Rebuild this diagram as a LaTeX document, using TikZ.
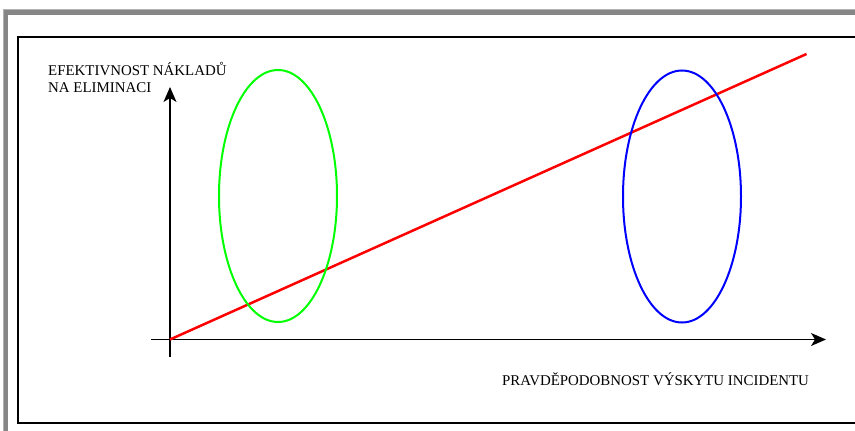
\documentclass[tikz,border=0pt]{standalone}
\usepackage{fontspec}
\setmainfont{Liberation Serif}
\usetikzlibrary{arrows.meta,shapes.geometric}
\begin{document}
\begin{tikzpicture}[x=1pt,y=-1pt,
  axis/.style={line width=1.5pt,-{Stealth[length=15pt,width=13pt,inset=4pt]}},
  lbl/.style={anchor=base west,inner sep=0pt,font=\fontsize{14.9}{17.7}\selectfont,align=left},
  oval/.style={ellipse,line width=2pt,minimum width=118pt,minimum height=252pt,inner sep=0pt}]
\useasboundingbox (0,0) rectangle (855,431);
\fill[white] (0,0) rectangle (855,431);
% outer gray frame
\draw[line width=5pt,color=gray!95] (5.5,440) -- (5.5,12) -- (870,12);
\draw[line width=1pt,color=gray!60] (3,440) -- (3,9.5) -- (870,9.5);
% inner black frame
\draw[line width=2pt] (18,37) rectangle (870,422.5);
% axes
\coordinate (o) at (170,339.5);
\coordinate (ybot) at (170,357);
\coordinate (ytop) at (170,87);
\coordinate (xleft) at (151,339.5);
\coordinate (xright) at (826,339.5);
\coordinate (rend) at (806.5,54);
\draw[axis] (ybot) -- (ytop);
\draw[axis] (xleft) -- (xright);
% red line
\draw[red,line width=2.5pt] (o) -- (rend);
% ellipses
\node[oval,draw=green] (g) at (278,196) {};
\node[oval,draw=blue] (b) at (682,196.5) {};
% labels
\node[lbl] (ylab) at (48,92.7) {EFEKTIVNOST NÁKLADŮ\\NA ELIMINACI};
\node[lbl] (xlab) at (502,385.7) {PRAVDĚPODOBNOST VÝSKYTU INCIDENTU};
\end{tikzpicture}
\end{document}
